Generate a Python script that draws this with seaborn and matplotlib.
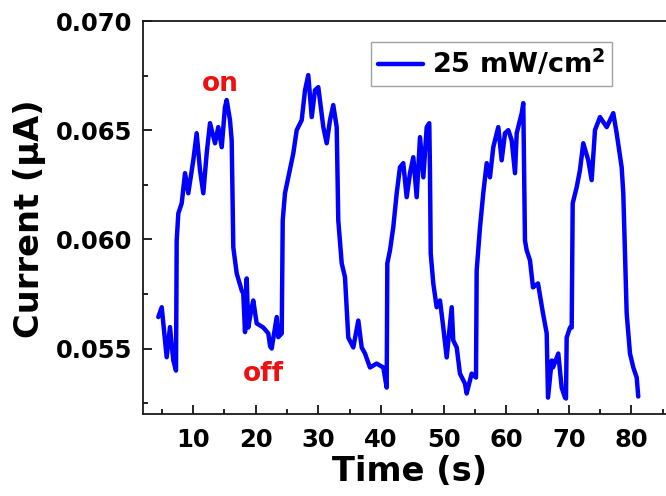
import matplotlib
matplotlib.use('Agg')
import matplotlib.pyplot as plt
import seaborn as sns
import pandas as pd
from matplotlib.ticker import MultipleLocator, FormatStrFormatter

# photocurrent switching under 25 mW/cm2
time_s = [
    4.44, 4.99, 5.51, 5.78, 6.31, 6.84, 7.27,
    7.38, 7.64, 8.18, 8.71, 9.23, 10.03, 10.57, 11.10, 11.63, 12.17, 12.70,
    13.50, 14.02, 14.57, 15.09, 15.36, 15.89, 16.16,
    16.42, 16.96, 17.76, 18.01, 18.29, 18.56, 18.81, 19.36, 19.61, 20.15,
    21.21, 22.01, 22.30, 22.55, 23.35, 23.60, 24.15,
    24.31, 24.67, 25.20, 26.00, 26.54, 27.34, 27.87, 28.39, 28.94, 29.46,
    29.99, 30.79, 31.33, 31.86, 32.38, 32.93,
    33.18, 33.73, 34.25, 34.78, 35.58, 36.38, 36.92, 37.45, 38.24, 39.31,
    40.37, 40.91,
    41.01, 41.44, 41.96, 42.51, 43.03, 43.56, 44.10, 44.63, 45.16, 45.70,
    46.23, 46.76, 47.30, 47.71, 47.82,
    47.94, 48.35, 48.89, 49.42, 49.95, 50.49, 51.29, 51.54, 52.09, 52.61,
    53.41, 53.68, 54.48, 55.17,
    55.28, 55.81, 56.33, 56.88, 57.40, 57.93, 58.73, 59.27, 59.80, 60.33,
    60.87, 61.40, 61.67, 62.47, 62.72,
    62.99, 63.26, 63.79, 64.27, 65.07, 65.87, 66.46, 66.67, 67.26, 67.46,
    68.31, 68.85, 69.38, 69.54, 69.65, 70.18, 70.45,
    70.61, 71.25, 71.77, 72.30, 73.10, 73.64, 74.17, 74.97, 76.04, 77.09,
    77.63, 78.43, 78.69,
    79.23, 79.76, 80.29, 80.83, 81.08,
]
current_uA = [
    0.05644, 0.05689, 0.05537, 0.05460, 0.05598, 0.05445, 0.05399,
    0.05995, 0.06119, 0.06165, 0.06303, 0.06211, 0.06362, 0.06486, 0.06317, 0.06211, 0.06394, 0.06532,
    0.06440, 0.06514, 0.06422, 0.06605, 0.06638, 0.06546, 0.06454,
    0.05963, 0.05844, 0.05766, 0.05752, 0.05575, 0.05821, 0.05596, 0.05689, 0.05720, 0.05615,
    0.05596, 0.05569, 0.05510, 0.05500, 0.05644, 0.05552, 0.05569,
    0.06087, 0.06211, 0.06284, 0.06394, 0.06500, 0.06546, 0.06683, 0.06752, 0.06560, 0.06683,
    0.06697, 0.06514, 0.06440, 0.06546, 0.06615, 0.06514,
    0.06087, 0.05890, 0.05827, 0.05550, 0.05505, 0.05628, 0.05505, 0.05477, 0.05413, 0.05431,
    0.05413, 0.05321,
    0.05890, 0.05950, 0.06055, 0.06211, 0.06330, 0.06349, 0.06193, 0.06303, 0.06376, 0.06193,
    0.06468, 0.06284, 0.06514, 0.06532, 0.06317,
    0.05936, 0.05798, 0.05689, 0.05720, 0.05596, 0.05459, 0.05689, 0.05537, 0.05505, 0.05385,
    0.05339, 0.05294, 0.05385, 0.05367,
    0.05858, 0.06055, 0.06211, 0.06349, 0.06284, 0.06422, 0.06514, 0.06362, 0.06486, 0.06500,
    0.06454, 0.06303, 0.06486, 0.06578, 0.06624,
    0.05995, 0.05950, 0.05904, 0.05780, 0.05798, 0.05661, 0.05569, 0.05275, 0.05445, 0.05413,
    0.05477, 0.05321, 0.05275, 0.05271, 0.05550, 0.05596, 0.05596,
    0.06165, 0.06239, 0.06317, 0.06440, 0.06362, 0.06271, 0.06500, 0.06560, 0.06514, 0.06578,
    0.06486, 0.06330, 0.06211,
    0.05661, 0.05477, 0.05413, 0.05367, 0.05280,
]
series_label = '25 mW/cm$^2$'
on_label, on_pos = 'on', (14.3, 0.06711)
off_label, off_pos = 'off', (21.2, 0.05381)

df = pd.DataFrame({'Time (s)': time_s, 'Current': current_uA})

sns.set_style('ticks')
plt.rcParams['font.family'] = ['DejaVu Sans']
plt.rcParams['font.weight'] = 'bold'
plt.rcParams['mathtext.default'] = 'bf'
plt.rcParams['xtick.direction'] = 'in'
plt.rcParams['ytick.direction'] = 'in'
plt.rcParams['text.color'] = 'black'
plt.rcParams['axes.labelcolor'] = 'black'
plt.rcParams['xtick.color'] = 'black'
plt.rcParams['ytick.color'] = 'black'

fig = plt.figure(figsize=(6.66, 4.96), dpi=100)
ax = fig.add_axes([143 / 666, 82 / 496, 538.6 / 666, 393 / 496])

sns.lineplot(data=df, x='Time (s)', y='Current', ax=ax, color='#0000ff',
             lw=3.2, label=series_label, sort=False)

ax.set_xlim(2, 88)
ax.set_ylim(0.052, 0.070)
ax.xaxis.set_major_locator(MultipleLocator(10))
ax.xaxis.set_minor_locator(MultipleLocator(5))
ax.yaxis.set_major_locator(MultipleLocator(0.005))
ax.yaxis.set_minor_locator(MultipleLocator(0.0025))
ax.yaxis.set_major_formatter(FormatStrFormatter('%.3f'))

ax.tick_params(which='both', direction='in', width=1.2, colors='black')
ax.tick_params(which='major', length=6.5)
ax.tick_params(which='minor', length=3.5)
ax.tick_params(axis='x', which='major', labelsize=17.5, pad=10)
ax.tick_params(axis='y', which='major', labelsize=17.5, pad=8)
for lab in ax.get_xticklabels() + ax.get_yticklabels():
    lab.set_fontweight('bold')

for sp in ax.spines.values():
    sp.set_linewidth(1.3)
    sp.set_color('#1a1a1a')

ax.set_xlabel('Time (s)', fontsize=24.3, fontweight='bold', color='black')
ax.set_ylabel('Current (μA)', fontsize=24.3, fontweight='bold', color='black')
ax.xaxis.set_label_coords(0.494, -0.104)
ax.yaxis.set_label_coords(-0.180, 0.497)

ax.text(*on_pos, on_label, color='#ee1111', fontsize=19, fontweight='bold',
        ha='center', va='center')
ax.text(*off_pos, off_label, color='#ee1111', fontsize=19, fontweight='bold',
        ha='center', va='center')

leg = ax.legend(loc='upper left', bbox_to_anchor=(0.4233, 0.9466),
                borderaxespad=0, fancybox=False, edgecolor='#8a8a8a',
                handlelength=1.67, handletextpad=0.33, borderpad=0.25,
                prop={'weight': 'bold', 'size': 19.5})
leg.get_frame().set_linewidth(1.0)
leg.get_lines()[0].set_linewidth(3.2)

fig.savefig('out.png', dpi=100)
